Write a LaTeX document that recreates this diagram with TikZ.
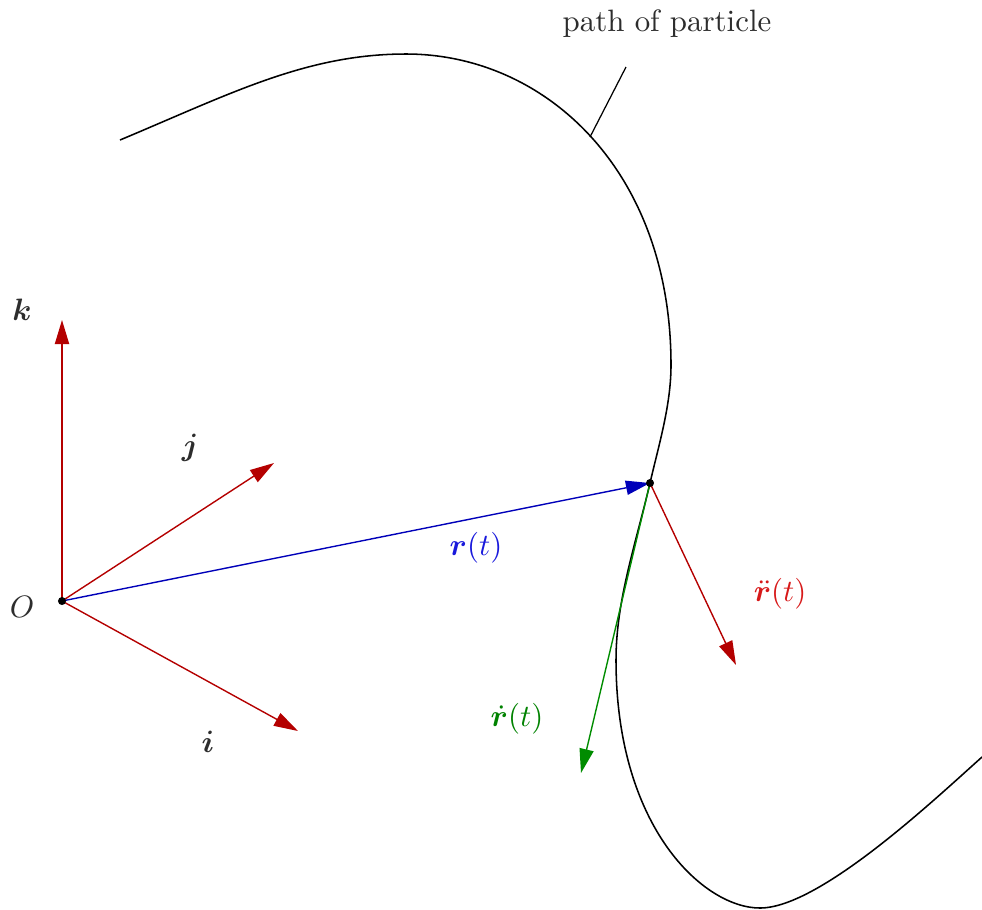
\documentclass[tikz,border=0pt]{standalone}
\usepackage{amsmath,bm}
\usetikzlibrary{arrows.meta}
\definecolor{txtgray}{RGB}{45,45,45}
\definecolor{vecred}{RGB}{180,0,0}
\definecolor{labred}{RGB}{215,25,25}
\definecolor{vecblue}{RGB}{0,0,185}
\definecolor{labblue}{RGB}{25,25,220}
\definecolor{vecgreen}{RGB}{0,140,0}
\definecolor{labgreen}{RGB}{0,130,0}
\begin{document}
\begin{tikzpicture}[x=0.3236pt,y=-0.3236pt,
  vec/.style={line width=0.45pt,-{Triangle[length=7.8pt,width=4.6pt]}},
  lab/.style={inner sep=0pt,text=txtgray},
  dotpt/.style={circle,fill=black,inner sep=0pt,minimum size=2.6pt}]
\useasboundingbox (0,0) rectangle (982,909);
% points
\coordinate (O) at (62,601);
\coordinate (P) at (650,483);
\coordinate (K) at (62,320);
\coordinate (J) at (274,463);
\coordinate (I) at (298,731);
\coordinate (A) at (736,665);
\coordinate (V) at (581,773);
\coordinate (L1) at (590,137);
\coordinate (L2) at (626,67);
% path of particle
\coordinate (S) at (120,140);
\coordinate (T) at (406,54);
\coordinate (Q) at (671,365);
\coordinate (W) at (616,660);
\coordinate (B) at (760,908);
\coordinate (E) at (982,757);
\draw[line width=0.5pt] (S)
  .. controls (230,94) and (306,54) .. (T)
  .. controls (545,54) and (671,170) .. (Q)
  .. controls (671,405) and (659,444) .. (P)
  .. controls (636,543) and (616,600) .. (W)
  .. controls (616,828) and (704,908) .. (B)
  .. controls (820,908) and (936,798) .. (E);
\draw[line width=0.4pt] (L1) -- (L2);
\node[lab] (pathlab) at (667,24) {path of particle};
% vectors
\draw[vec,vecred] (O) -- (K);
\draw[vec,vecred] (O) -- (J);
\draw[vec,vecred] (O) -- (I);
\draw[vec,vecblue] (O) -- (P);
\draw[vec,vecgreen] (P) -- (V);
\draw[vec,vecred] (P) -- (A);
\node[dotpt] (Odot) at (O) {};
\node[dotpt] (Pdot) at (P) {};
% labels
\node[lab] (klab) at (22,310) {$\bm{k}$};
\node[lab] (jlab) at (190,448) {$\bm{j}$};
\node[lab] (ilab) at (208,742) {$\bm{i}$};
\node[lab] (olab) at (22,607) {$O$};
\node[inner sep=0pt,text=labblue] (rlab) at (476,548) {$\bm{r}(t)$};
\node[inner sep=0pt,text=labred] (alab) at (780,594) {$\ddot{\bm{r}}(t)$};
\node[inner sep=0pt,text=labgreen] (vlab) at (517,719) {$\dot{\bm{r}}(t)$};
\end{tikzpicture}
\end{document}
